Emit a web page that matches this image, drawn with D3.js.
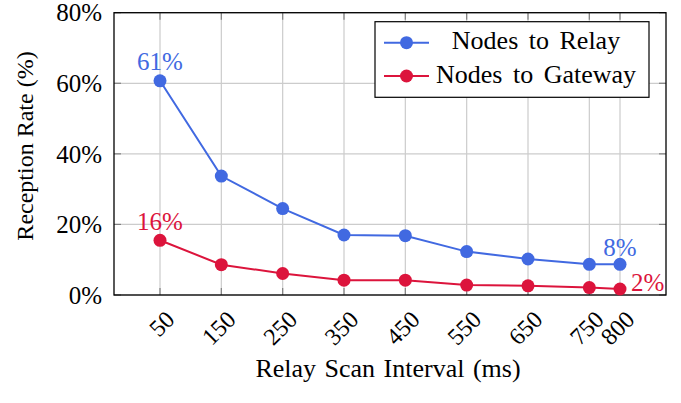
<!DOCTYPE html>
<html>
<head>
<meta charset="utf-8">
<script src="https://cdn.jsdelivr.net/npm/d3@7"></script>
<style>
  body { margin: 0; background: #fff; }
  text { font-family: "Liberation Serif", "DejaVu Serif", serif; }
</style>
</head>
<body>
<svg id="chart" width="681" height="403"></svg>
<script>
// data
const intervals = [50, 150, 250, 350, 450, 550, 650, 750, 800];
const relayRate = [60.7, 33.7, 24.5, 17.0, 16.8, 12.3, 10.2, 8.7, 8.7];
const gatewayRate = [15.5, 8.6, 6.1, 4.2, 4.2, 2.8, 2.6, 2.1, 1.7];
const yTicks = [0, 20, 40, 60, 80];
const seriesNames = ['Nodes to Relay', 'Nodes to Gateway'];
const seriesColors = ['#4169E1', '#DC143C'];
// annotation texts as printed on the chart (first and last point of each series)
const relayLabels = ['61%', '8%'];
const gatewayLabels = ['16%', '2%'];

const plotLeft = 114, plotRight = 666, plotTop = 12.7, plotBottom = 295;
const fontSize = 24;

var svg = d3.select('#chart');

var x = d3.scaleLinear().domain([-25, 875]).range([plotLeft, plotRight]);
var y = d3.scaleLinear().domain([0, 80]).range([plotBottom, plotTop]);

// grid
var grid = svg.append('g');
grid.selectAll('.gx').data(intervals).enter().append('line')
    .attr('x1', d => x(d)).attr('x2', d => x(d))
    .attr('y1', plotTop).attr('y2', plotBottom)
    .attr('stroke', '#cccccc').attr('stroke-width', 1.2);
grid.selectAll('.gy').data(yTicks).enter().append('line')
    .attr('x1', plotLeft).attr('x2', plotRight)
    .attr('y1', d => y(d)).attr('y2', d => y(d))
    .attr('stroke', '#cccccc').attr('stroke-width', 1.2);

// inward tick marks
const tl = 7;
var ticks = svg.append('g').attr('stroke', '#808080').attr('stroke-width', 1.2);
intervals.forEach(d => {
    ticks.append('line').attr('x1', x(d)).attr('x2', x(d)).attr('y1', plotBottom).attr('y2', plotBottom - tl);
    ticks.append('line').attr('x1', x(d)).attr('x2', x(d)).attr('y1', plotTop).attr('y2', plotTop + tl);
});
yTicks.forEach(d => {
    ticks.append('line').attr('x1', plotLeft).attr('x2', plotLeft + tl).attr('y1', y(d)).attr('y2', y(d));
    ticks.append('line').attr('x1', plotRight).attr('x2', plotRight - tl).attr('y1', y(d)).attr('y2', y(d));
});

// frame
svg.append('rect')
    .attr('x', plotLeft).attr('y', plotTop)
    .attr('width', plotRight - plotLeft).attr('height', plotBottom - plotTop)
    .attr('fill', 'none').attr('stroke', '#000').attr('stroke-width', 1.3);

// y tick labels
svg.append('g').selectAll('text').data(yTicks).enter().append('text')
    .attr('x', plotLeft - 12).attr('y', d => y(d))
    .attr('dy', '0.35em')
    .attr('text-anchor', 'end')
    .attr('font-size', 25)
    .text(d => d + '%');

// x tick labels, rotated
svg.append('g').selectAll('text').data(intervals).enter().append('text')
    .attr('transform', d => 'translate(' + (x(d) + 10) + ',' + 315 + ') rotate(-45)')
    .attr('dy', '0.35em')
    .attr('text-anchor', 'end')
    .attr('font-size', fontSize)
    .text(d => d);

// axis titles
svg.append('text')
    .attr('x', (plotLeft + plotRight) / 2 - 2).attr('y', 377)
    .attr('text-anchor', 'middle')
    .attr('font-size', 26)
    .attr('word-spacing', 2)
    .text('Relay Scan Interval (ms)');
svg.append('text')
    .attr('transform', 'translate(33,146) rotate(-90)')
    .attr('text-anchor', 'middle')
    .attr('font-size', fontSize)
    .text('Reception Rate (%)');

// series
const allSeries = [relayRate, gatewayRate];
var line = d3.line().x((d, i) => x(intervals[i])).y(d => y(d));
allSeries.forEach((vals, s) => {
    svg.append('path').datum(vals)
        .attr('d', line)
        .attr('fill', 'none')
        .attr('stroke', seriesColors[s])
        .attr('stroke-width', 2);
    svg.append('g').selectAll('circle').data(vals).enter().append('circle')
        .attr('cx', (d, i) => x(intervals[i]))
        .attr('cy', d => y(d))
        .attr('r', 6.5)
        .attr('fill', seriesColors[s]);
});

// value labels on first and last points
const first = 0, last = intervals.length - 1;
function label(s, i, txt, dx, dy, anchor) {
    svg.append('text')
        .attr('x', x(intervals[i]) + dx)
        .attr('y', y(allSeries[s][i]) + dy)
        .attr('text-anchor', anchor)
        .attr('font-size', 25)
        .attr('fill', seriesColors[s])
        .text(txt);
}
label(0, first, relayLabels[0], 0, -11, 'middle');
label(1, first, gatewayLabels[0], 0, -10, 'middle');
label(0, last, relayLabels[1], 0, -8, 'middle');
label(1, last, gatewayLabels[1], 11, 2, 'start');

// legend
var lg = svg.append('g');
lg.append('rect')
    .attr('x', 375).attr('y', 21.7).attr('width', 274).attr('height', 75.6)
    .attr('fill', '#fff').attr('stroke', '#000').attr('stroke-width', 1.2);
seriesNames.forEach((name, s) => {
    const ry = 42.7 + s * 33.3;
    lg.append('line').attr('x1', 384).attr('x2', 429).attr('y1', ry).attr('y2', ry)
        .attr('stroke', seriesColors[s]).attr('stroke-width', 2);
    lg.append('circle').attr('cx', 406.5).attr('cy', ry).attr('r', 6.5).attr('fill', seriesColors[s]);
    lg.append('text')
        .attr('x', 536).attr('y', ry + 6.6)
        .attr('text-anchor', 'middle')
        .attr('font-size', 26)
        .attr('word-spacing', 4)
        .text(name);
});
</script>
</body>
</html>
